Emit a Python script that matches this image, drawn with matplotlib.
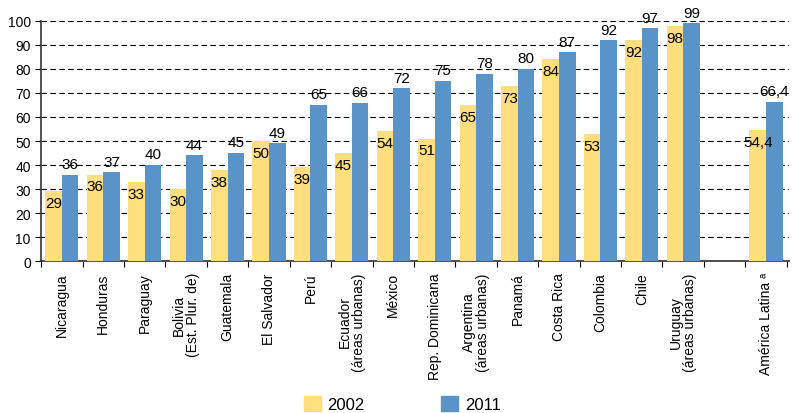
import numpy as np
import matplotlib
matplotlib.use("Agg")
import matplotlib.pyplot as plt
from matplotlib.patches import Patch

plt.rcParams['font.family'] = ['Liberation Sans', 'DejaVu Sans']

paises = ["Nicaragua", "Honduras", "Paraguay", "Bolivia\n(Est. Plur. de)", "Guatemala",
          "El Salvador", "Perú", "Ecuador\n(áreas urbanas)", "México", "Rep. Dominicana",
          "Argentina\n(áreas urbanas)", "Panamá", "Costa Rica", "Colombia", "Chile",
          "Uruguay\n(áreas urbanas)", "", "América Latina \u1d43"]
v2002 = [29, 36, 33, 30, 38, 50, 39, 45, 54, 51, 65, 73, 84, 53, 92, 98, None, 54.4]
v2011 = [36, 37, 40, 44, 45, 49, 65, 66, 72, 75, 78, 80, 87, 92, 97, 99, None, 66.4]

amarillo = "#FFDE80"
azul = "#5A93C8"


def fmt(v):
    if v == int(v):
        return str(int(v))
    return f"{v:.1f}".replace(".", ",")


fig = plt.figure(figsize=(7.92, 4.14), dpi=100)
ax = fig.add_axes([0.052, 0.367, 0.944, 0.58])

x = np.arange(len(paises))
w = 0.4
for i in x:
    if v2002[i] is None:
        continue
    ax.bar(i - w / 2, v2002[i], w, color=amarillo, zorder=3)
    ax.bar(i + w / 2, v2011[i], w, color=azul, zorder=3)
    ax.text(i - w / 2, v2002[i] - 2, fmt(v2002[i]), ha="center", va="top",
            fontsize=11, zorder=4)
    ax.text(i + w / 2, v2011[i] + 1.5, fmt(v2011[i]), ha="center", va="bottom",
            fontsize=11, zorder=4)

ax.set_xlim(-0.5, len(paises) - 0.45)
ax.set_ylim(0, 100)
ax.set_yticks(range(0, 101, 10))
ax.yaxis.grid(True, linestyle=(0, (5, 3)), color="black", linewidth=0.8, zorder=0)
ax.tick_params(axis="y", labelsize=10, length=4, width=0.8, direction="out")

ax.set_xticks(np.arange(len(paises) + 1) - 0.5)
ax.set_xticklabels([])
ax.set_xticks(x, minor=True)
ax.set_xticklabels(paises, minor=True, rotation=90, fontsize=10, va="top", ha="center",
                   linespacing=1.0)
ax.tick_params(axis="x", which="major", length=4, width=0.8)
ax.tick_params(axis="x", which="minor", length=0, pad=8)

for s in ["top", "right"]:
    ax.spines[s].set_visible(False)
for s in ["left", "bottom"]:
    ax.spines[s].set_color("#333333")
    ax.spines[s].set_linewidth(1.2)

handles = [Patch(color=amarillo, label="2002"), Patch(color=azul, label="2011")]
fig.legend(handles=handles, loc="lower center", bbox_to_anchor=(0.508, -0.035), ncol=2,
           frameon=False, fontsize=12, handlelength=1.0, handleheight=1.0,
           columnspacing=4.6, handletextpad=0.4)

fig.savefig("out.png", dpi=100)
